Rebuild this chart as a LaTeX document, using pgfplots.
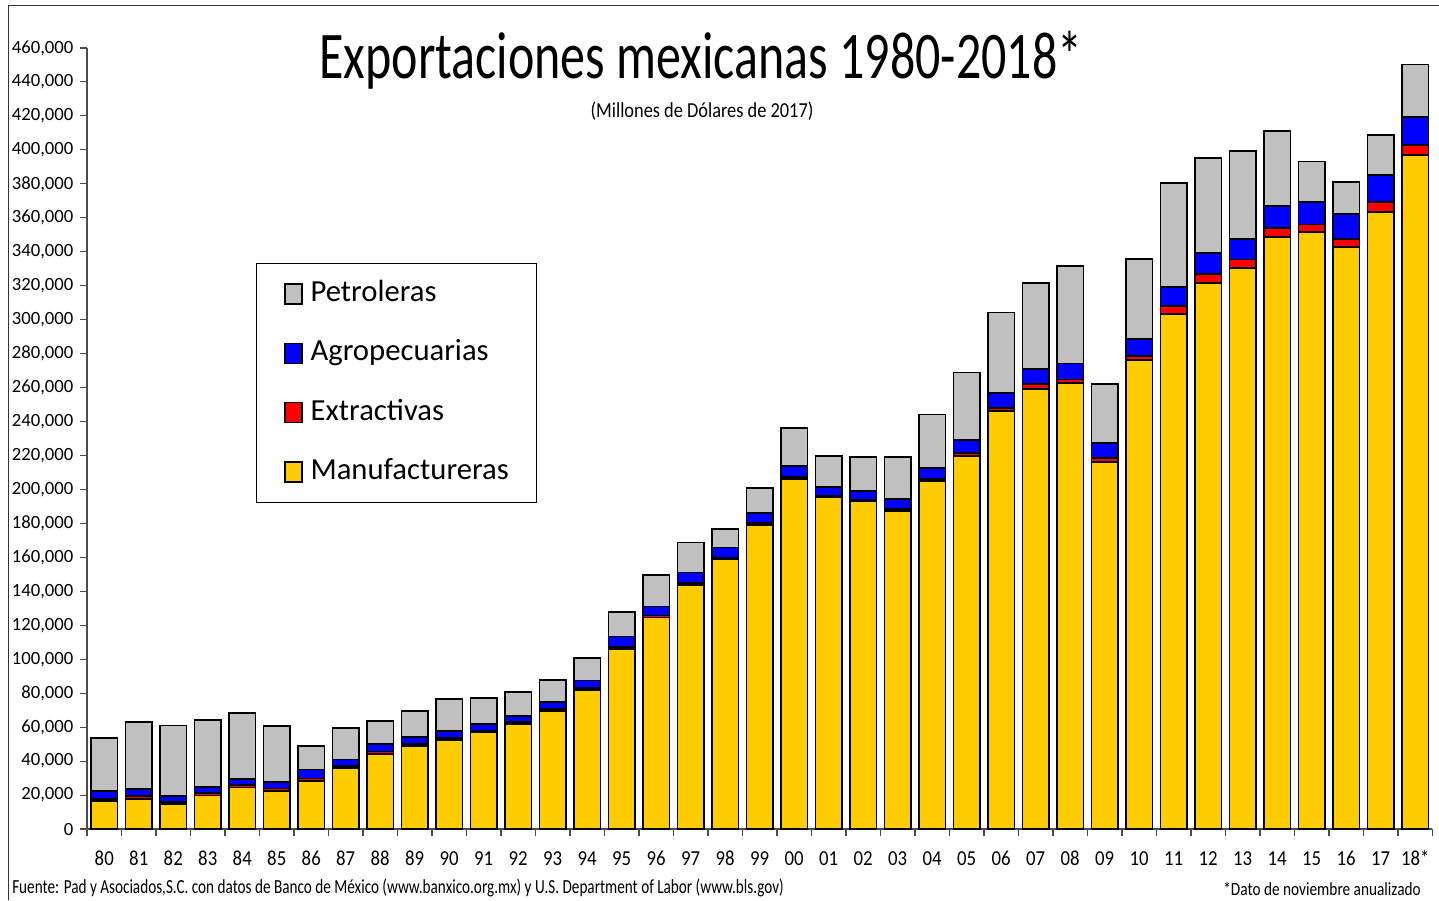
\documentclass[border=0pt]{standalone}
\usepackage{fontspec}
\setmainfont{Carlito}
\newfontfamily\titlef[FakeStretch=0.75]{Carlito}
\newfontfamily\subf[FakeStretch=0.86]{Carlito}
\newfontfamily\footf[FakeStretch=0.76]{Carlito}
\newfontfamily\datof[FakeStretch=0.82]{Carlito}
\newfontfamily\tickf[FakeStretch=1.0]{Carlito}
\newfontfamily\xtickf[FakeStretch=0.88]{Carlito}
\usepackage{pgfplots}
\usepackage{pgfplotstable}
\pgfplotsset{compat=1.18}
\definecolor{manuf}{HTML}{FFCC00}
\definecolor{extr}{HTML}{FF0000}
\definecolor{agro}{HTML}{0000FF}
\definecolor{petro}{HTML}{C0C0C0}
\pgfplotstableread{
x man ext agr pet
0 16400 1500 4300 31400
1 17600 2000 4000 39200
2 14800 1300 3200 41700
3 19700 1500 3400 39400
4 24400 1600 3500 39000
5 22600 1300 3600 33000
6 28500 1300 5200 13700
7 36000 1200 3700 18600
8 44400 1200 4500 13300
9 49100 1100 3800 15700
10 52200 1200 4100 18900
11 57000 1000 3900 15300
12 61900 1000 3500 14100
13 69700 1000 3900 13400
14 82000 1200 4300 13200
15 106000 1300 6100 14400
16 124600 1200 5200 18700
17 143800 1200 6100 17600
18 158900 1000 5900 10800
19 179100 1000 5900 14700
20 206200 1000 6600 22400
21 195400 900 5000 18600
22 193200 900 5000 20200
23 187500 900 6200 24700
24 205000 1200 6600 31400
25 219500 1800 7600 40000
26 246000 1800 8800 47600
27 259100 2800 9000 50700
28 262500 2300 9400 57400
29 216400 2000 9100 34700
30 276200 2300 10200 46900
31 303100 4800 11400 61400
32 321600 5200 12300 56300
33 330500 4900 12100 51800
34 348900 5100 12800 44100
35 351500 4500 13300 23900
36 342800 4600 14700 19200
37 363600 5500 16100 23700
38 397200 5800 16300 31000
}\datatable
\begin{document}
\begin{tikzpicture}
\path[use as bounding box] (0,0) rectangle (1079.25pt,-675pt);
\draw[black!80, line width=0.75pt] (6pt,-675pt) -- (6pt,-3.75pt) -- (1079.25pt,-3.75pt);
\begin{axis}[
  at={(65.25pt,-621.75pt)}, anchor=south west,
  width=1009.125pt, height=585.75pt, scale only axis,
  ybar stacked, bar width=0.77,
  xmin=-0.5, xmax=38.5, ymin=0, ymax=460000,
  axis x line=bottom, axis y line=left,
  axis line style={-, draw=gray!60!black, line width=0.9pt},
  every outer x axis line/.append style={-},
  every outer y axis line/.append style={-},
  tick align=outside,
  major tick length=5.25pt,
  tick style={draw=gray!60!black, line width=0.8pt},
  xtick={-0.5,0.5,...,38.5},
  xticklabels={},
  extra x ticks={0,...,38},
  extra x tick labels={80,81,82,83,84,85,86,87,88,89,90,91,92,93,94,95,96,97,98,99,00,01,02,03,04,05,06,07,08,09,10,11,12,13,14,15,16,17,18*},
  extra x tick style={major tick length=0pt, tick style={draw=none},
    xticklabel style={font=\xtickf\fontsize{16}{18}\selectfont, text=black, text height=11pt, text depth=0pt, yshift=-13pt}},
  ytick={0,20000,...,460000},
  scaled y ticks=false,
  /pgf/number format/.cd, fixed, 1000 sep={,}, assume math mode=true,
  /pgfplots/.cd,
  yticklabel style={font=\tickf\fontsize{14}{16}\selectfont, text=black, xshift=-1.5pt},
  legend cell align=left,
  reverse legend,
  legend image code/.code={\draw[#1, draw=black, line width=0.9pt] (0pt,-7.5pt) rectangle (12.75pt,7.5pt);},
  legend style={at={(0.1256,0.7247)}, anchor=north west, draw=black, line width=0.6pt,
    font=\fontsize{23}{27}\selectfont, inner xsep=21pt, inner ysep=12.5pt,
    row sep=23.5pt, column sep=6pt,
    nodes={inner xsep=0pt, inner ysep=0pt, text height=16pt, text depth=5pt}},
]
\addplot[fill=manuf, draw=black, line width=1.35pt] table[x=x, y=man] {\datatable};
\addplot[fill=extr, draw=black, line width=1.35pt] table[x=x, y=ext] {\datatable};
\addplot[fill=agro, draw=black, line width=1.35pt] table[x=x, y=agr] {\datatable};
\addplot[fill=petro, draw=black, line width=1.35pt] table[x=x, y=pet] {\datatable};
\legend{Manufactureras, Extractivas, Agropecuarias, Petroleras}
\end{axis}
\node[anchor=base, font=\titlef\fontsize{50}{56}\selectfont] at (525.75pt,-58.5pt) {Exportaciones mexicanas 1980-2018*};
\node[anchor=base, font=\subf\fontsize{16}{19}\selectfont] at (526.5pt,-87.75pt) {(Millones de Dólares de 2017)};
\node[anchor=base west, inner sep=0pt, font=\footf\fontsize{15}{18}\selectfont] at (9pt,-669.75pt) {Fuente: Pad y Asociados,S.C. con datos de Banco de México (www.banxico.org.mx) y U.S. Department of Labor (www.bls.gov)};
\node[anchor=base east, inner sep=0pt, font=\datof\fontsize{14}{16}\selectfont] at (1065.75pt,-671.25pt) {*Dato de noviembre anualizado};
\end{tikzpicture}
\end{document}
